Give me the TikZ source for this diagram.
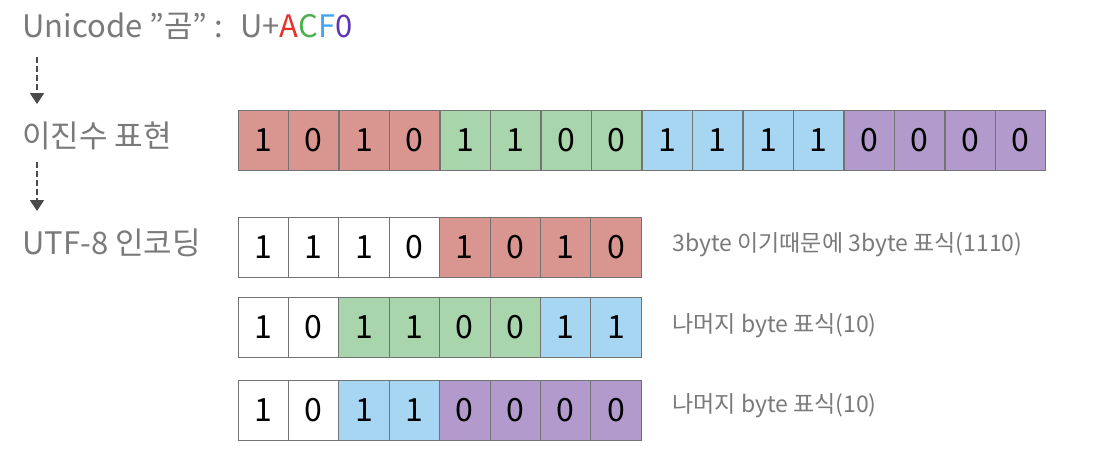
\documentclass[tikz,border=0pt]{standalone}
\usepackage{fontspec}
\setmainfont{Noto Sans CJK KR}
\usetikzlibrary{positioning,arrows.meta}
\definecolor{txtgray}{HTML}{7A7A7A}
\definecolor{arrgray}{HTML}{4A4A4A}
\definecolor{cred}{HTML}{D9958F}
\definecolor{cgreen}{HTML}{A8D5AB}
\definecolor{cblue}{HTML}{A7D6F3}
\definecolor{cpurple}{HTML}{B29ACC}
\definecolor{cwhite}{HTML}{FFFFFF}
\definecolor{hexred}{HTML}{E8302A}
\definecolor{hexgreen}{HTML}{4CAF50}
\definecolor{hexblue}{HTML}{42A5F5}
\definecolor{hexpurple}{HTML}{5E35B1}
\tikzset{
  bitcell/.style={draw=black!55,line width=0.5pt,minimum width=25.2pt,minimum height=30pt,
    inner sep=0pt,outer sep=0pt,font=\fontsize{16}{16}\selectfont},
  biglbl/.style={text=txtgray,font=\fontsize{15.5}{16}\selectfont,inner sep=0pt},
  notelbl/.style={text=txtgray,font=\fontsize{11.5}{12}\selectfont,inner sep=0pt},
  darr/.style={-{Triangle[length=5.5pt,width=7pt]},line width=0.9pt,arrgray,dash pattern=on 3pt off 1.5pt},
}
\begin{document}
\begin{tikzpicture}[x=0.5pt,y=-0.5pt]
  \useasboundingbox[fill=white] (0,0) rectangle (1110,466);
  % labels on the left
  \node[biglbl,anchor=base west] (uni) at (22,38) {Unicode ”곰” :};
  \node[biglbl,anchor=base west] (code) at (240,38) {U+\textcolor{hexred}{A}\textcolor{hexgreen}{C}\textcolor{hexblue}{F}\textcolor{hexpurple}{0}};
  \node[biglbl,anchor=west] (bin) at (22,136) {이진수 표현};
  \node[biglbl,anchor=west] (utf) at (22,243) {UTF-8 인코딩};
  \coordinate (a1s) at (37,57);  \coordinate (a1e) at (37,104);
  \coordinate (a2s) at (37,162); \coordinate (a2e) at (37,211);
  \draw[darr] (a1s) -- (a1e);
  \draw[darr] (a2s) -- (a2e);
  % binary form of ACF0
  \foreach \b/\c [count=\i] in {1/cred,0/cred,1/cred,0/cred,1/cgreen,1/cgreen,0/cgreen,0/cgreen,
      1/cblue,1/cblue,1/cblue,1/cblue,0/cpurple,0/cpurple,0/cpurple,0/cpurple}
    \node[bitcell,fill=\c] (t\i) at ({238+50.5*(\i-0.5)},140) {\b};
  % utf-8 bytes
  \foreach \b/\c [count=\i] in {1/cwhite,1/cwhite,1/cwhite,0/cwhite,1/cred,0/cred,1/cred,0/cred}
    \node[bitcell,fill=\c] (ra\i) at ({238+50.4*(\i-0.5)},247) {\b};
  \foreach \b/\c [count=\i] in {1/cwhite,0/cwhite,1/cgreen,1/cgreen,0/cgreen,0/cgreen,1/cblue,1/cblue}
    \node[bitcell,fill=\c] (rb\i) at ({238+50.4*(\i-0.5)},327) {\b};
  \foreach \b/\c [count=\i] in {1/cwhite,0/cwhite,1/cblue,1/cblue,0/cpurple,0/cpurple,0/cpurple,0/cpurple}
    \node[bitcell,fill=\c] (rc\i) at ({238+50.4*(\i-0.5)},410) {\b};
  % notes
  \node[notelbl,anchor=west] (na) at (672,245) {3byte 이기때문에 3byte 표식(1110)};
  \node[notelbl,anchor=west] (nb) at (672,326) {나머지 byte 표식(10)};
  \node[notelbl,anchor=west] (nc) at (672,406) {나머지 byte 표식(10)};
\end{tikzpicture}
\end{document}
